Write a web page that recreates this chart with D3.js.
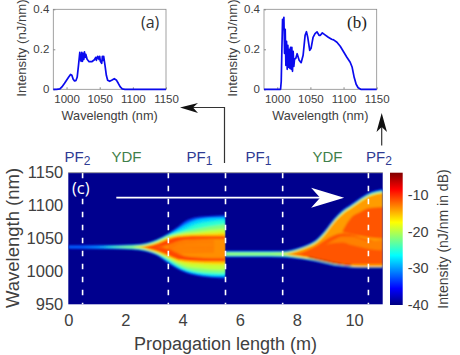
<!DOCTYPE html>
<html>
<head>
<meta charset="utf-8">
<script src="https://cdnjs.cloudflare.com/ajax/libs/d3/7.8.5/d3.min.js"></script>
<style>
  html, body { margin: 0; padding: 0; background: #fff; }
  svg { display: block; font-family: "Liberation Sans", sans-serif; }
  .tick text { fill: #404040; }
  .label { fill: #404040; text-anchor: middle; }
</style>
</head>
<body>
<div id="chart"></div>
<script>
// spectrum at the output of PF1 (a) and at the end of the YDF (b)
const specAWl = [980,985,990,993,997,1000,1003,1006,1008,1010,1012,1014,1016,1018,1020,1021,1022,1023,1024,1025,1026,1027,1028,1029,1031,1034,1038,1042,1044,1045,1047,1049,1050,1051,1053,1054,1055,1056,1058,1060,1062,1065,1068,1072,1075,1078,1081,1084,1088,1150];
const specAVal = [0,0,.002,.012,.03,.045,.06,.074,.07,.05,.042,.043,.06,.12,.185,.15,.14,.185,.14,.18,.15,.187,.16,.175,.15,.138,.138,.148,.16,.145,.165,.15,.165,.14,.13,.165,.145,.165,.12,.07,.045,.04,.045,.053,.047,.03,.012,.002,0,0];
const specBWl = [980,1005,1006,1007,1008,1009,1010,1011,1012,1013,1014,1015,1016,1017,1018,1019,1020,1021,1022,1023,1024,1025,1026,1028,1030,1033,1036,1039,1042,1044,1046,1049,1051,1054,1057,1060,1063,1065,1068,1072,1077,1082,1085,1090,1095,1100,1105,1110,1113,1116,1119,1122,1126,1150];
const specBVal = [0,0,.04,.2,.35,.3,.36,.18,.3,.12,.24,.1,.22,.11,.2,.105,.21,.1,.21,.09,.19,.115,.15,.155,.178,.145,.133,.17,.27,.288,.26,.195,.205,.26,.278,.287,.27,.27,.282,.272,.26,.25,.247,.235,.215,.188,.16,.135,.11,.06,.025,.008,0,0];

const specTicksX = [1000, 1050, 1100, 1150];
const specTicksY = [0, 0.2, 0.4];
const mapTicksX = [0, 2, 4, 6, 8, 10];
const mapTicksY = [950, 1000, 1050, 1100, 1150];
const barTicks = [-10, -20, -30, -40];
const fibreBreaks = [0.5, 3.5, 5.5, 7.5, 10.5];

// heat map, painted as stacked bands: dB level, then wavelength edges along z
const seg1Z = [0, 1, 2, 2.5, 2.8, 3.1, 3.5, 3.8, 4.1, 4.5, 5, 5.5];
const seg1Db = [-37, -32, -28, -25, -22, -19.5, -16, -11, -13.5];
const seg1Up = [
  [1040,1040,1040.5,1041.5,1044,1049,1058,1067,1077,1082.5,1084.5,1085.5],
  [1039,1039.5,1040,1041,1043.5,1048,1057,1066,1075.5,1081.5,1083.5,1084.5],
  [1037,1037.5,1039.5,1040.5,1043,1047.5,1056,1063,1071,1078,1081,1082],
  [1037,1037,1039,1040,1042.5,1047,1055,1060,1065,1072,1076,1078],
  [1037,1037,1038.5,1039.5,1042,1046,1054,1058,1061,1065,1069,1072],
  [1037,1037,1037,1039,1041,1045,1052.5,1056,1058.5,1060,1063,1065],
  [1037,1037,1037,1037.5,1040,1044,1051,1054,1056,1057,1058,1059],
  [1037,1037,1037,1037,1038.5,1042,1049,1052.5,1053.5,1054,1054,1054],
  [1037,1037,1037,1037,1037,1037,1040,1045,1048,1049,1049.5,1050]
];
const seg1Lo = [
  [1034,1034,1033.5,1032,1029,1024,1012,1004,998,993,990.5,989],
  [1035,1034.5,1034,1032.5,1030,1025,1013,1005,999,994.5,991.5,990.5],
  [1037,1036.5,1034.5,1033,1030.5,1026,1014.5,1006.5,1000.5,996,993,992.5],
  [1037,1037,1035,1033.5,1031,1026.5,1016,1008,1002,997.5,995,994.5],
  [1037,1037,1035.5,1034.5,1031.5,1027,1018,1010,1004,1000,998,997.5],
  [1037,1037,1037,1035,1032,1028,1020,1013,1008,1005,1003,1002.5],
  [1037,1037,1037,1036.5,1033,1029,1022,1016,1013,1011.5,1010.5,1010],
  [1037,1037,1037,1037,1034.5,1031,1024,1018.5,1016.5,1015.5,1015,1015],
  [1037,1037,1037,1037,1037,1037,1034,1028,1023,1021,1020,1020]
];
const seg2Z = [5.5, 6.5, 7.5, 7.8, 8.1, 8.4, 8.7, 9, 9.3, 9.6, 9.9, 10.2, 10.5, 11];
const seg2Db = [-37, -31, -24, -21, -17, -14, -11.5];
const seg2Up = [
  [1031.5,1031.5,1031.5,1033,1037,1042,1050,1064,1081,1094,1103,1112,1120,1126],
  [1030.5,1030.5,1030.5,1032,1035.5,1040.5,1048,1062,1079,1092,1101,1110,1118,1124],
  [1029.5,1029.5,1029.5,1031,1034.5,1039.5,1047,1060.5,1077.5,1090.5,1099.5,1108.5,1116.5,1122],
  [1028,1028,1028.5,1030,1034,1039,1046,1059.5,1076.5,1089.5,1098.5,1107.5,1115.5,1121],
  [1026.5,1026.5,1027,1029,1033,1038,1045,1058.5,1075.5,1088.5,1097.5,1106.5,1114.5,1120],
  [1026.5,1026.5,1026.5,1028,1032,1037,1044,1057,1074,1087,1096,1105,1113,1119],
  [1026.5,1026.5,1026.5,1026.5,1028,1033,1039.5,1048,1055,1058,1056,1052,1048,1044]
];
const seg2Lo = [
  [1021.5,1021.5,1021,1020,1018.5,1016.5,1014,1011,1008,1006.5,1005.5,1005,1005,1005],
  [1022.5,1022.5,1022,1021,1019.5,1017.5,1015,1012,1009,1007.5,1006,1005.5,1005.5,1005.5],
  [1023.5,1023.5,1023,1022,1020.5,1018.5,1016,1013,1010,1008.5,1007,1006,1006,1006],
  [1025,1025,1024.5,1023,1021,1019,1016.5,1013.5,1010.5,1009,1007.5,1006.5,1006.5,1006.5],
  [1026.5,1026.5,1026,1024,1022,1020,1017.5,1014.5,1011.5,1009.5,1008,1007,1007,1007],
  [1026.5,1026.5,1026.5,1025,1023,1021,1018.5,1015.5,1012.5,1010,1008.5,1007.5,1007.5,1007.5],
  [1026.5,1026.5,1026.5,1026,1024,1022,1019.5,1016.5,1014,1012,1011,1011,1011,1011]
];
// orange gap below the red arc, and the red patch above it
const gapZ = [9, 9.3, 9.6, 9.9, 10.2, 10.5, 11];
const gapUp = [1040, 1048, 1053, 1053, 1050, 1046, 1048];
const gapLo = [1040, 1043, 1044, 1040, 1037, 1034, 1032];
const patchZ = [9.6, 9.9, 10.2, 10.5, 11];
const patchUp = [1062, 1082, 1090, 1096, 1098];
const patchLo = [1060, 1057, 1054, 1052, 1050];
// dark ridge on the short wavelength edge
const ridgeZ = [8.4, 8.7, 9, 9.3, 9.6, 9.9];
const ridgeWl = [1021.5, 1018.5, 1015.5, 1012.5, 1010.5, 1009];
// fringes fanning out in the PF1 section
const fringeZ = [3.5, 3.9, 4.3, 4.8, 5.1];
const fringeWl = [
  [1037, 1044, 1046, 1047, 1046],
  [1035, 1041, 1042.5, 1043, 1042],
  [1033, 1037, 1038, 1038, 1038],
  [1031, 1033, 1034, 1034, 1034],
  [1029, 1029, 1029.5, 1030, 1030]
];

const width = 460, height = 355;

const svg = d3.select("#chart").append("svg")
  .attr("width", width)
  .attr("height", height);

const defs = svg.append("defs");
defs.append("filter").attr("id", "soft")
  .append("feGaussianBlur").attr("stdDeviation", 0.8);

function drawSpectrum(left, right, wl, val) {
  const top = 9.3, bottom = 89.3;
  const x = d3.scaleLinear().domain([980, 1150]).range([left, right]);
  const y = d3.scaleLinear().domain([0, 0.4]).range([bottom, top]);
  const g = svg.append("g");

  g.append("rect")
    .attr("x", left).attr("y", top)
    .attr("width", right - left).attr("height", bottom - top)
    .attr("fill", "none").attr("stroke", "#8a8a8a").attr("stroke-width", 0.8);

  const ax = g.append("g").attr("transform", `translate(0,${bottom})`)
    .call(d3.axisBottom(x).tickValues(specTicksX).tickFormat(d3.format("d")).tickSize(-2).tickPadding(6));
  const ay = g.append("g").attr("transform", `translate(${left},0)`)
    .call(d3.axisLeft(y).tickValues(specTicksY).tickFormat(d => d).tickSize(-2).tickPadding(4));
  [ax, ay].forEach(a => {
    a.select(".domain").remove();
    a.selectAll("line").attr("stroke", "#8a8a8a");
    a.selectAll("text").attr("font-size", 11.5).attr("font-family", "Liberation Sans");
  });

  g.append("path")
    .datum(d3.zip(wl, val))
    .attr("fill", "none")
    .attr("stroke", "#0a0aee")
    .attr("stroke-width", 1.7)
    .attr("stroke-linejoin", "round")
    .attr("d", d3.line().x(d => x(d[0])).y(d => y(d[1])));

  g.append("text").attr("class", "label")
    .attr("x", (left + right) / 2).attr("y", 120)
    .attr("font-size", 12.7).text("Wavelength (nm)");
  g.append("text").attr("class", "label")
    .attr("transform", `translate(${left - 27},48) rotate(-90)`)
    .attr("font-size", 13.2).text("Intensity (nJ/nm)");
}

drawSpectrum(53.3, 166, specAWl, specAVal);
drawSpectrum(264, 376.7, specBWl, specBVal);

svg.append("text").attr("x", 141).attr("y", 28)
  .attr("font-size", 16).attr("font-family", "Open Sans").attr("fill", "#333").text("(a)");
svg.append("text").attr("x", 347).attr("y", 28)
  .attr("font-size", 17).attr("font-family", "Liberation Serif").attr("fill", "#222").text("(b)");

// heat map
const mapL = 68.3, mapR = 382.7, mapT = 172.7, mapB = 304.3;
const zScale = d3.scaleLinear().domain([0, 11]).range([mapL, mapR]);
const wlScale = d3.scaleLinear().domain([950, 1150]).range([mapB, mapT]);
const dbScale = d3.scaleLinear().domain([-40, -4]);
const jetStops = [[0, "#000080"], [0.125, "#0000ff"], [0.375, "#00ffff"], [0.625, "#ffff00"], [0.875, "#ff0000"], [1, "#800000"]];
const jet = d3.scaleLinear().domain(jetStops.map(d => d[0])).range(jetStops.map(d => d[1]));
const dbColor = db => jet(dbScale(db));

svg.append("rect")
  .attr("x", mapL).attr("y", mapT)
  .attr("width", mapR - mapL).attr("height", mapB - mapT)
  .attr("fill", dbColor(-39.5));

const band = d3.area()
  .x(d => zScale(d[0])).y0(d => wlScale(d[2])).y1(d => wlScale(d[1]))
  .curve(d3.curveMonotoneX);

function drawBands(clipId, from, to, zs, dbs, ups, los, extra) {
  defs.append("clipPath").attr("id", clipId).append("rect")
    .attr("x", zScale(from)).attr("y", mapT)
    .attr("width", zScale(to) - zScale(from)).attr("height", mapB - mapT);
  const g = svg.append("g").attr("clip-path", `url(#${clipId})`)
    .append("g").attr("filter", "url(#soft)");
  dbs.forEach((db, i) => {
    g.append("path")
      .datum(d3.zip(zs, ups[i], los[i]))
      .attr("fill", dbColor(db))
      .attr("d", band);
  });
  extra(g);
}

const wlLine = d3.line().x(d => zScale(d[0])).y(d => wlScale(d[1])).curve(d3.curveMonotoneX);

drawBands("seg1", 0, 5.5, seg1Z, seg1Db, seg1Up, seg1Lo, g => {
  fringeWl.forEach(wl => {
    g.append("path").datum(d3.zip(fringeZ, wl))
      .attr("fill", "none").attr("stroke", dbColor(-11))
      .attr("stroke-width", 0.9).attr("stroke-opacity", 0.6).attr("d", wlLine);
  });
});
drawBands("seg2", 5.5, 11, seg2Z, seg2Db, seg2Up, seg2Lo, g => {
  g.append("path").datum(d3.zip(patchZ, patchUp, patchLo))
    .attr("fill", dbColor(-11.5)).attr("d", band);
  g.append("path").datum(d3.zip(gapZ, gapUp, gapLo))
    .attr("fill", dbColor(-13)).attr("d", band);
  g.append("path").datum(d3.zip(ridgeZ, ridgeWl))
    .attr("fill", "none").attr("stroke", dbColor(-5)).attr("stroke-width", 1.2).attr("d", wlLine);
});

// fibre section boundaries, the first one leaves room for the (c) tag
svg.selectAll(".break").data(fibreBreaks).join("line")
  .attr("class", "break")
  .attr("x1", d => zScale(d)).attr("x2", d => zScale(d))
  .attr("y1", mapT).attr("y2", mapB)
  .attr("stroke", "#fff").attr("stroke-width", 1.6)
  .attr("stroke-dasharray", (d, i) => i === 0 ? "5.5,20.5," + "5.5,7.5,".repeat(9) + "5.5,7.5" : "5.5,7.5");

// propagation arrow
svg.append("line")
  .attr("x1", zScale(1.68)).attr("x2", zScale(9))
  .attr("y1", wlScale(1112)).attr("y2", wlScale(1112))
  .attr("stroke", "#fff").attr("stroke-width", 1.8);
const tipX = zScale(9.65), tipY = wlScale(1112);
svg.append("path")
  .attr("fill", "#fff")
  .attr("d", d3.line()([[tipX, tipY], [tipX - 33, tipY - 10], [tipX - 24, tipY], [tipX - 33, tipY + 10]]) + "Z");

svg.append("text").attr("x", 72).attr("y", 194)
  .attr("font-size", 16.5).attr("font-family", "Open Sans").attr("fill", "#fff").text("(c)");

svg.append("rect")
  .attr("x", mapL).attr("y", mapT - 0.5)
  .attr("width", mapR - mapL).attr("height", 1).attr("fill", "#9a9a9a");

const mapAxX = svg.append("g").attr("transform", `translate(0,${mapB})`)
  .call(d3.axisBottom(zScale).tickValues(mapTicksX).tickSize(0).tickPadding(10));
const mapAxY = svg.append("g").attr("transform", `translate(${mapL},0)`)
  .call(d3.axisLeft(wlScale).tickValues(mapTicksY).tickFormat(d3.format("d")).tickSize(0).tickPadding(5));
[mapAxX, mapAxY].forEach(a => {
  a.select(".domain").remove();
  a.selectAll("text").attr("font-size", 16.5);
});

svg.append("text").attr("class", "label")
  .attr("x", 225.5).attr("y", 350).attr("font-size", 18).text("Propagation length (m)");
svg.append("text").attr("class", "label")
  .attr("transform", `translate(19,238) rotate(-90)`)
  .attr("font-size", 18.5).text("Wavelength (nm)");

// section names above the map
const sectionNames = ["PF", "YDF", "PF", "PF", "YDF", "PF"];
const sectionSubs = ["2", "", "1", "1", "", "2"];
const sectionX = [77.5, 126.5, 199.5, 258.5, 327.5, 379];
const sectionLabels = svg.selectAll(".section").data(sectionNames).join("text")
  .attr("class", "section")
  .attr("x", (d, i) => sectionX[i]).attr("y", 162)
  .attr("text-anchor", "middle")
  .attr("font-size", 15)
  .attr("fill", d => d === "YDF" ? "#3f7f4a" : "#2e3a92");
sectionLabels.append("tspan").text(d => d);
sectionLabels.append("tspan")
  .attr("dy", 3).attr("font-size", 12)
  .text((d, i) => sectionSubs[i]);

// colour bar
const barL = 390, barR = 402.7;
const barScale = d3.scaleLinear().domain([-40, -4]).range([mapB + 0.7, mapT]);
const barGrad = defs.append("linearGradient").attr("id", "jetbar")
  .attr("x1", 0).attr("x2", 0).attr("y1", 1).attr("y2", 0);
jetStops.forEach(s => barGrad.append("stop").attr("offset", s[0]).attr("stop-color", s[1]));
svg.append("rect")
  .attr("x", barL).attr("y", mapT)
  .attr("width", barR - barL).attr("height", barScale(-40) - mapT)
  .attr("fill", "url(#jetbar)");
const barAx = svg.append("g").attr("transform", `translate(${barR},0)`)
  .call(d3.axisRight(barScale).tickValues(barTicks).tickSize(0).tickPadding(5).tickFormat(d => d));
barAx.select(".domain").remove();
barAx.selectAll("text").attr("font-size", 14.5);
svg.append("text").attr("class", "label")
  .attr("transform", `translate(448,239) rotate(-90)`)
  .attr("font-size", 14).text("Intensity (nJ/nm in dB)");

// black arrows linking the map to the spectra
svg.append("path")
  .attr("fill", "none").attr("stroke", "#333").attr("stroke-width", 1.2)
  .attr("d", d3.line()([[224.5, 163], [224.5, 107.5], [192, 107.5]]));
svg.append("path").attr("fill", "#111")
  .attr("d", d3.line()([[180, 107.5], [198, 103], [193, 107.5], [198, 113]]) + "Z");
svg.append("line")
  .attr("x1", 381.7).attr("x2", 381.7).attr("y1", 145.5).attr("y2", 125)
  .attr("stroke", "#333").attr("stroke-width", 1.2);
svg.append("path").attr("fill", "#111")
  .attr("d", d3.line()([[381.7, 113], [376.5, 132], [381.7, 127], [387, 132]]) + "Z");
</script>
</body>
</html>
